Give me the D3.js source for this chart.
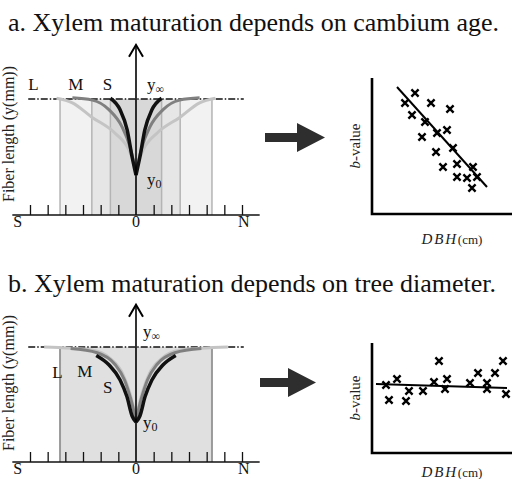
<!DOCTYPE html>
<html lang="en">
<head>
  <meta charset="UTF-8">
  <title>Xylem maturation</title>
  <script src="https://d3js.org/d3.v7.min.js"></script>
  <style>
    body {
      margin: 0;
      background: #fff;
    }
    svg {
      display: block;
      font-family: 'Liberation Serif', 'Times New Roman', serif;
    }
    .title { font-size: 26px; fill: #111; }
    .ylab { font-size: 16px; fill: #222; }
    .lab { font-size: 17px; fill: #111; }
    .tick-lab { font-size: 16px; fill: #111; }
    .small-lab { font-size: 15px; fill: #222; }
  </style>
</head>
<body>
  <svg width="512" height="479"></svg>
  <script>
    // ---- data ----
    const titles = ["a. Xylem maturation depends on cambium age.",
                    "b. Xylem maturation depends on tree diameter."];
    const tickValues = [-6, -5, -4, -3, -2, -1, 1, 2, 3, 4, 5, 6];
    const tickLabels = ["S", "0", "N"];
    const curveNames = ["L", "M", "S"];

    // half curves: [distance from pith, fiber length]
    const curveA_L = [[0, 1.2], [0.4, 1.68], [1.2, 2.12], [2.5, 2.53], [3.6, 2.9], [4.5, 3.02]];
    const curveA_M = [[0, 1.1], [0.34, 1.76], [0.79, 2.28], [1.52, 2.72], [2.47, 2.97], [3.6, 3.03]];
    const curveA_S = [[0, 1.03], [0.22, 1.5], [0.5, 2.2], [0.9, 2.72], [1.45, 3.02]];
    const curveB_L = [[0, 1.15], [0.35, 1.8], [0.75, 2.3], [1.4, 2.68], [2.5, 2.92], [5.2, 3.0]];
    const curveB_M = [[0, 1.1], [0.3, 1.65], [0.65, 2.14], [1.2, 2.55], [2.2, 2.85], [3.7, 2.96]];
    const curveB_S = [[0, 1.04], [0.22, 1.2], [0.51, 1.7], [0.9, 2.14], [1.52, 2.53], [2.25, 2.78]];

    // half widths of the shaded stems
    const stemsA = [4.3, 2.5, 1.45];
    const stemsB = [4.3];
    const yInf = 3.0;

    // scatter: [DBH, b-value]
    const scatterA = [[4.3, 12.1], [3.3, 11.1], [5.9, 11.1], [7.8, 10.5], [4.0, 9.9], [5.3, 9.2],
                      [7.5, 8.4], [6.5, 8.1], [5.0, 7.7], [8.1, 6.6], [6.4, 6.2], [7.1, 4.7],
                      [8.5, 5.0], [10.1, 4.7], [8.5, 3.7], [9.5, 3.6], [10.5, 3.7], [10.0, 2.6]];
    const fitA = [[2.5, 12.7], [11.5, 2.7]];
    const scatterB = [[1.4, 6.8], [1.7, 5.3], [2.5, 7.4], [3.4, 5.2], [3.7, 6.2], [5.1, 6.2],
                      [6.2, 7.1], [6.7, 9.2], [7.5, 7.4], [7.3, 6.4], [9.8, 7.0], [10.6, 8.0],
                      [11.5, 7.0], [11.5, 6.4], [12.3, 8.0], [13.1, 9.2], [13.4, 5.9]];
    const fitB = [[0.4, 6.9], [13.5, 6.5]];

    const svg = d3.select("svg");
    svg.append("rect").attr("width", 512).attr("height", 479).attr("fill", "#fff");

    const curveColors = {L: "#c4c4c4", M: "#808080", S: "#111"};
    const curveWidths = {L: 3, M: 3, S: 3.5};

    const x = d3.scaleLinear().domain([-6, 6]).range([30, 242]);

    function curvePanel(cfg) {
      const g = svg.append("g");
      const y = d3.scaleLinear().domain([0, yInf]).range(cfg.yRange);

      // shaded stems
      cfg.stems.forEach((w, i) => {
        g.append("rect")
          .attr("x", x(-w)).attr("width", x(w) - x(-w))
          .attr("y", y(yInf)).attr("height", y(0) - y(yInf))
          .attr("fill", cfg.fills[i]);
      });
      cfg.stems.forEach(w => {
        g.selectAll(null).data([-w, w]).enter().append("line")
          .attr("x1", d => x(d)).attr("x2", d => x(d))
          .attr("y1", y(yInf)).attr("y2", y(0))
          .attr("stroke", cfg.edge).attr("stroke-width", cfg.edgeWidth);
      });

      // asymptote
      g.append("line")
        .attr("x1", x(-6.1)).attr("x2", x(6.1))
        .attr("y1", y(yInf)).attr("y2", y(yInf))
        .attr("stroke", "#111").attr("stroke-width", 1.6)
        .attr("stroke-dasharray", "7,2,1.5,2");

      // curves
      const line = d3.line()
        .x(d => x(d[0])).y(d => y(d[1]))
        .curve(d3.curveMonotoneX);
      curveNames.forEach((name, i) => {
        const half = cfg.curves[i];
        [-1, 1].forEach(side => {
          g.append("path")
            .datum(half.map(d => [side * d[0], d[1]]))
            .attr("fill", "none")
            .attr("stroke", curveColors[name])
            .attr("stroke-width", curveWidths[name])
            .attr("d", line);
        });
      });

      // vertical arrow
      g.append("line")
        .attr("x1", x(0)).attr("x2", x(0))
        .attr("y1", y(0)).attr("y2", y(cfg.arrowTop))
        .attr("stroke", "#000").attr("stroke-width", 1.6);
      g.append("path")
        .attr("d", `M${x(0) - 7},${y(cfg.arrowTop) + 12}L${x(0)},${y(cfg.arrowTop)}L${x(0) + 7},${y(cfg.arrowTop) + 12}`)
        .attr("fill", "none").attr("stroke", "#000").attr("stroke-width", 2);

      // base axis
      g.append("line")
        .attr("x1", x(-7)).attr("x2", x(7))
        .attr("y1", y(0)).attr("y2", y(0))
        .attr("stroke", "#111").attr("stroke-width", 1.5);
      const axis = g.append("g")
        .attr("transform", `translate(0,${y(0)})`)
        .call(d3.axisBottom(x).tickValues(tickValues).tickSizeInner(-10).tickSizeOuter(0).tickFormat(""));
      axis.select(".domain").remove();
      axis.selectAll("line").attr("stroke", "#111").attr("stroke-width", 1.3);

      g.selectAll(null).data(tickLabels).enter().append("text")
        .attr("class", "tick-lab")
        .attr("x", (d, i) => x([-6.7, 0, 6.1][i]))
        .attr("y", y(0) + 12)
        .attr("text-anchor", "middle")
        .text(d => d);

      // curve labels
      g.selectAll(null).data(curveNames).enter().append("text")
        .attr("class", "lab")
        .attr("x", (d, i) => x(cfg.labelPos[i][0]))
        .attr("y", (d, i) => y(cfg.labelPos[i][1]))
        .attr("text-anchor", "middle")
        .text(d => d);

      const yi = g.append("text").attr("class", "lab")
        .attr("x", x(cfg.yInfPos[0])).attr("y", y(cfg.yInfPos[1]));
      yi.append("tspan").text("y");
      yi.append("tspan").attr("font-size", 12).attr("dy", 3).text("\u221e");
      const y0 = g.append("text").attr("class", "lab")
        .attr("x", x(cfg.y0Pos[0])).attr("y", y(cfg.y0Pos[1]));
      y0.append("tspan").text("y");
      y0.append("tspan").attr("font-size", 12).attr("dy", 3).text("0");

      // y label
      g.append("text")
        .attr("class", "ylab")
        .attr("transform", `translate(14,${cfg.yLabelCenter}) rotate(-90)`)
        .attr("text-anchor", "middle")
        .text("Fiber length (y(mm))");
    }

    function scatterPanel(cfg) {
      const g = svg.append("g");
      const sx = d3.scaleLinear().domain([0, 14]).range([372, 512]);
      const sy = d3.scaleLinear().domain([0, cfg.yMax]).range(cfg.yRange);

      g.append("path")
        .attr("d", `M${sx(0)},${sy(cfg.yMax)}V${sy(0)}H${sx(14)}`)
        .attr("fill", "none").attr("stroke", "#000").attr("stroke-width", 2.6);

      g.append("path")
        .datum(cfg.fit)
        .attr("fill", "none").attr("stroke", "#000").attr("stroke-width", 2)
        .attr("d", d3.line().x(d => sx(d[0])).y(d => sy(d[1])));

      g.selectAll(null).data(cfg.points).enter().append("path")
        .attr("transform", d => `translate(${sx(d[0])},${sy(d[1])})`)
        .attr("d", "M-3.6,-3.6L3.6,3.6M-3.6,3.6L3.6,-3.6")
        .attr("stroke", "#000").attr("stroke-width", 2.4);

      const bl = g.append("text").attr("class", "small-lab")
        .attr("transform", `translate(360,${(sy(0) + sy(cfg.yMax)) / 2}) rotate(-90)`)
        .attr("text-anchor", "middle");
      bl.append("tspan").attr("font-style", "italic").text("b");
      bl.append("tspan").text("-value");

      const xl = g.append("text").attr("class", "small-lab")
        .attr("x", 452).attr("y", cfg.xLabelY)
        .attr("text-anchor", "middle");
      xl.append("tspan").attr("font-style", "italic").attr("letter-spacing", 1.8).text("DBH");
      xl.append("tspan").attr("font-size", 13).text("(cm)");
    }

    function bigArrow(x0, x1, cy) {
      const headLen = 28, shaft = 4.5, head = 14.5;
      svg.append("path")
        .attr("d", `M${x0},${cy - shaft}H${x1 - headLen}V${cy - head}L${x1},${cy}L${x1 - headLen},${cy + head}V${cy + shaft}H${x0}Z`)
        .attr("fill", "#2e2e2e");
    }

    svg.selectAll(".title").data(titles).enter().append("text")
      .attr("class", "title")
      .attr("x", 8)
      .attr("y", (d, i) => [31, 292][i])
      .attr("font-size", (d, i) => [26, 26.8][i])
      .text(d => d);

    curvePanel({
      yRange: [215, 99], stems: stemsA,
      fills: ["#f2f2f2", "#e6e6e6", "#d8d8d8"], edge: "#b4b4b4", edgeWidth: 1.5,
      curves: [curveA_L, curveA_M, curveA_S],
      arrowTop: 4.4,
      labelPos: [[-5.8, 3.22], [-3.4, 3.22], [-1.62, 3.22]],
      yInfPos: [0.62, 3.22], y0Pos: [0.62, 0.78],
      yLabelCenter: 134
    });
    curvePanel({
      yRange: [462, 347], stems: stemsB,
      fills: ["#e0e0e0"], edge: "#9a9a9a", edgeWidth: 2,
      curves: [curveB_L, curveB_M, curveB_S],
      arrowTop: 4.1,
      labelPos: [[-4.45, 2.2], [-2.9, 2.22], [-1.6, 1.8]],
      yInfPos: [0.4, 3.25], y0Pos: [0.4, 0.88],
      yLabelCenter: 383
    });

    scatterPanel({yMax: 13.6, yRange: [214, 78], points: scatterA, fit: fitA, xLabelY: 244});
    scatterPanel({yMax: 11, yRange: [453, 343], points: scatterB, fit: fitB, xLabelY: 477});

    bigArrow(265, 325, 137.5);
    bigArrow(260, 316, 382.5);
  </script>
</body>
</html>
